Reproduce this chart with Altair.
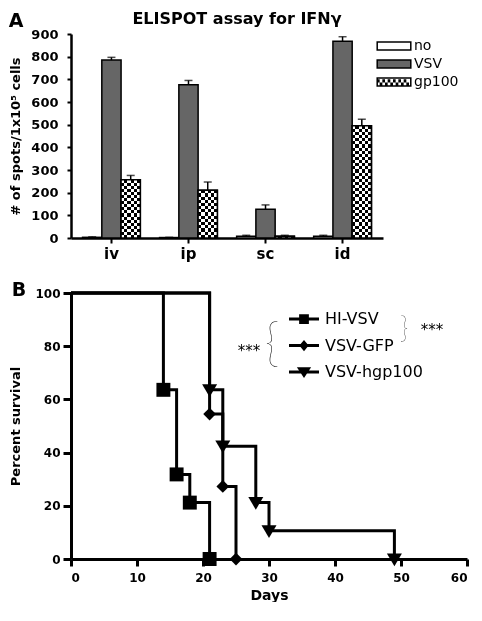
import altair as alt
import pandas as pd

# ---------------- data: panel A (ELISPOT) ----------------
routes = ["iv", "ip", "sc", "id"]
groups = ["no", "VSV", "gp100"]
no_mean = [3, 2, 8, 8]
no_err = [2, 1, 4, 4]
vsv_mean = [785, 676, 127, 868]
vsv_err = [12, 19, 19, 20]
gp_mean = [257, 211, 8, 495]
gp_err = [19, 36, 4, 29]
y_ticks_a = [0, 100, 200, 300, 400, 500, 600, 700, 800, 900]

# ---------------- data: panel B (survival) ----------------
series = ["HI-VSV", "VSV-GFP", "VSV-hgp100"]
hi_days = [0, 14, 16, 18, 21]
hi_surv = [100, 63.6, 31.8, 21.2, 0]
gfp_days = [0, 21, 23, 25]
gfp_surv = [100, 54.5, 27.3, 0]
hgp_days = [0, 21, 23, 28, 30, 49]
hgp_surv = [100, 63.6, 42.4, 21.2, 10.6, 0]
x_ticks_b = [0, 10, 20, 30, 40, 50, 60]
y_ticks_b = [0, 20, 40, 60, 80, 100]

panel_labels = ["A", "B"]
title_a = ["ELISPOT assay for IFNγ"]
ytitle_a = "# of spots/1x10⁵ cells"
ytitle_b = "Percent survival"
xtitle_b = "Days"
signif = ["***"]
braces = ["{", "}"]

# ---------------- tables ----------------
rows_a = []
for i, r in enumerate(routes):
    for g, m, e in zip(groups, [no_mean, vsv_mean, gp_mean], [no_err, vsv_err, gp_err]):
        rows_a.append({"route": r, "group": g, "mean": m[i], "hi": m[i] + e[i]})
df_a = pd.DataFrame(rows_a)

rows_b = []
for s, ds, vs in zip(series, [hi_days, gfp_days, hgp_days], [hi_surv, gfp_surv, hgp_surv]):
    for d, v in zip(ds, vs):
        rows_b.append({"series": s, "day": d, "surv": v})
df_b = pd.DataFrame(rows_b)

FONT = "DejaVu Sans"
WA, HA = 312, 204
WB, HB = 396, 266

# ---------------- panel A ----------------
ax_x_a = alt.Axis(title=None, labelAngle=0, labelFont=FONT, labelFontSize=15, labelFontWeight="bold",
                  labelColor="black", domainColor="black", domainWidth=2.5, tickColor="black",
                  tickWidth=2, tickSize=5, labelPadding=3, grid=False)
ax_y_a = alt.Axis(title=ytitle_a, values=y_ticks_a, labelFont=FONT, labelFontSize=13, labelFontWeight="bold",
                  labelColor="black", titleFont=FONT, titleFontSize=13, titleFontWeight="bold",
                  titleColor="black", titlePadding=8, domainColor="black", domainWidth=2.5,
                  tickColor="black", tickWidth=2, tickSize=4, labelPadding=9, grid=False)


def X_a():
    return alt.X("route:N", sort=routes,
                 scale=alt.Scale(domain=routes, paddingInner=0.25, paddingOuter=0.15), axis=ax_x_a)


def XO_a():
    return alt.XOffset("group:N", scale=alt.Scale(domain=groups, paddingInner=0, paddingOuter=0))


def Y_a(field):
    return alt.Y(field, scale=alt.Scale(domain=[0, 900], nice=False), axis=ax_y_a)


sq_rect = "M-2.1,-0.5H2.1V0.5H-2.1Z"
# black squares of the checker swatch (laid over the white gp100 swatch)
chk = ""
cw = 4.0 / 12
chh = 0.84 / 2
for rr in range(2):
    for cc in range(12):
        if (rr + cc) % 2 == 0:
            x0 = -2.0 + cc * cw
            y0 = -0.42 + rr * chh
            chk += f"M{x0:.3f},{y0:.3f}H{x0 + cw:.3f}V{y0 + chh:.3f}H{x0:.3f}Z "
chk = chk.strip()

LEG_A_X, LEG_A_Y, LEG_A_ROW = 314, 3, 18.8

fill_scale_a = alt.Scale(domain=groups, range=["white", "#666666", "white"])

bars = alt.Chart(df_a).mark_bar(stroke="black", strokeWidth=1.5).encode(
    x=X_a(), xOffset=XO_a(), y=Y_a("mean:Q"),
    fill=alt.Fill("group:N", scale=fill_scale_a,
                  legend=alt.Legend(title=None, orient="none", legendX=LEG_A_X, legendY=LEG_A_Y,
                                    labelFont=FONT, labelFontSize=14, labelColor="black",
                                    symbolType=sq_rect, symbolSize=256, labelOffset=11, rowPadding=2,
                                    symbolStrokeWidth=1.5, symbolOpacity=1)),
)

checker_legend = alt.Chart(df_a).transform_filter("datum.group === 'gp100'").mark_point(
    filled=True, color="black", opacity=0).encode(
    x=X_a(), xOffset=XO_a(), y=Y_a("mean:Q"),
    shape=alt.Shape("group:N", scale=alt.Scale(domain=["gp100"], range=[chk]),
                    legend=alt.Legend(title=None, orient="none", legendX=LEG_A_X,
                                      legendY=LEG_A_Y + 2 * LEG_A_ROW, labelExpr="''",
                                      symbolSize=256, symbolStrokeWidth=0, symbolOpacity=1,
                                      labelFontSize=14, labelFont=FONT)),
)


def hgrad(n):
    stops = []
    for k in range(n):
        c = "black" if k % 2 == 0 else "white"
        stops.append(alt.GradientStop(offset=k / n, color=c))
        stops.append(alt.GradientStop(offset=(k + 1) / n, color=c))
    return alt.LinearGradient(gradient="linear", stops=stops, x1=0, x2=0, y1=0, y2=1)


def vgrad(n):
    stops = []
    for k in range(n):
        c = "white" if k % 2 == 0 else "black"
        stops.append(alt.GradientStop(offset=k / n, color=c))
        stops.append(alt.GradientStop(offset=(k + 1) / n, color=c))
    return alt.LinearGradient(gradient="linear", stops=stops, x1=0, x2=1, y1=0, y2=0)


pattern_layers = []
for r, v in zip(routes, gp_mean):
    px = v / 900 * HA
    n = max(1, round(px / 3.1))
    pattern_layers.append(
        alt.Chart(df_a).transform_filter(f"datum.group === 'gp100' && datum.route === '{r}'")
        .mark_bar(fill=hgrad(n)).encode(x=X_a(), xOffset=XO_a(), y=Y_a("mean:Q"))
    )
pattern_layers.append(
    alt.Chart(df_a).transform_filter("datum.group === 'gp100'")
    .mark_bar(fill=vgrad(6), blend="difference").encode(x=X_a(), xOffset=XO_a(), y=Y_a("mean:Q"))
)
outline = alt.Chart(df_a).transform_filter("datum.group === 'gp100'").mark_bar(
    fillOpacity=0, stroke="black", strokeWidth=1.5).encode(x=X_a(), xOffset=XO_a(), y=Y_a("mean:Q"))

err_rule = alt.Chart(df_a).mark_rule(color="black", strokeWidth=1.5).encode(
    x=X_a(), xOffset=XO_a(), y=Y_a("mean:Q"), y2="hi:Q")
err_cap = alt.Chart(df_a).mark_tick(color="black", thickness=1.5, size=8).encode(
    x=X_a(), xOffset=XO_a(), y=Y_a("hi:Q"))

lab_a = alt.Chart(pd.DataFrame({"t": [panel_labels[0]]})).mark_text(
    font=FONT, fontSize=19, fontWeight="bold", color="black", align="center", baseline="alphabetic"
).encode(text="t:N", x=alt.value(-55), y=alt.value(-7))
ttl_a = alt.Chart(pd.DataFrame({"t": title_a})).mark_text(
    font=FONT, fontSize=16, fontWeight="bold", color="black", align="center", baseline="alphabetic"
).encode(text="t:N", x=alt.value(WA / 2 + 10), y=alt.value(-10))

chart_a = alt.layer(bars, *pattern_layers, outline, err_rule, err_cap, checker_legend, lab_a, ttl_a).properties(
    width=WA, height=HA)

# ---------------- panel B ----------------
ax_x_b = alt.Axis(title=xtitle_b, values=x_ticks_b, labelFont=FONT, labelFontSize=12, labelFontWeight="bold",
                  labelColor="black", titleFont=FONT, titleFontSize=14, titleFontWeight="bold",
                  titleColor="black", titlePadding=5, domainColor="black", domainWidth=3,
                  tickColor="black", tickWidth=3, tickSize=7, labelPadding=6, grid=False)
ax_y_b = alt.Axis(title=ytitle_b, values=y_ticks_b, labelFont=FONT, labelFontSize=12, labelFontWeight="bold",
                  labelColor="black", titleFont=FONT, titleFontSize=13, titleFontWeight="bold",
                  titleColor="black", titlePadding=12, domainColor="black", domainWidth=3,
                  tickColor="black", tickWidth=3, tickSize=8, labelPadding=3, grid=False)

X_b = alt.X("day:Q", scale=alt.Scale(domain=[0, 60], nice=False), axis=ax_x_b)
Y_b = alt.Y("surv:Q", scale=alt.Scale(domain=[0, 100], nice=False), axis=ax_y_b)

m_sq = "M-0.93,-0.93H0.93V0.93H-0.93Z"
m_di = "M0,-0.85L0.85,0L0,0.85L-0.85,0Z"
m_tr = "M-1,-0.75H1L0,0.95Z"
line_seg = "M-2,-0.2H2V0.2H-2Z"
l_sq = line_seg + " M-0.65,-0.65H0.65V0.65H-0.65Z"
l_di = line_seg + " M0,-0.75L0.62,0L0,0.75L-0.62,0Z"
l_tr = line_seg + " M-0.95,-0.65H0.95L0,0.8Z"

leg_b = alt.Legend(title=None, orient="none", legendX=225, legendY=18, labelFont=FONT, labelFontSize=16,
                   labelColor="black", symbolSize=225, labelOffset=13, rowPadding=10.5,
                   symbolStrokeWidth=0, symbolOpacity=1)

lines = alt.Chart(df_b).mark_line(interpolate="step-after", color="black", strokeWidth=3).encode(
    x=X_b, y=Y_b, detail="series:N")
points = alt.Chart(df_b).transform_filter("datum.day > 0").mark_point(
    filled=True, color="black", opacity=1, size=225).encode(
    x=X_b, y=Y_b,
    shape=alt.Shape("series:N", scale=alt.Scale(domain=series, range=[m_sq, m_di, m_tr]), legend=None),
)
legend_b_src = alt.Chart(df_b).mark_point(filled=True, color="black", opacity=0, size=225).encode(
    x=X_b, y=Y_b,
    shape=alt.Shape("series:N", scale=alt.Scale(domain=series, range=[l_sq, l_di, l_tr]), legend=leg_b),
)

lab_b = alt.Chart(pd.DataFrame({"t": [panel_labels[1]]})).mark_text(
    font=FONT, fontSize=19, fontWeight="bold", color="black", align="center", baseline="alphabetic"
).encode(text="t:N", x=alt.value(-52), y=alt.value(3))

stars_df = pd.DataFrame({"t": signif})
star_l = alt.Chart(stars_df).mark_text(font=FONT, fontSize=15, color="black", align="center",
                                       baseline="middle").encode(text="t:N", x=alt.value(178), y=alt.value(58))
star_r = alt.Chart(stars_df).mark_text(font=FONT, fontSize=15, color="black", align="center",
                                       baseline="middle").encode(text="t:N", x=alt.value(361), y=alt.value(37))
brace_l = alt.Chart(pd.DataFrame({"t": [braces[0]]})).mark_text(
    font="Lato", fontWeight=200, fontSize=52, color="black", align="center", baseline="middle"
).encode(text="t:N", x=alt.value(201), y=alt.value(51))
brace_r = alt.Chart(pd.DataFrame({"t": [braces[1]]})).mark_text(
    font="Lato", fontWeight=200, fontSize=30, color="black", align="center", baseline="middle"
).encode(text="t:N", x=alt.value(333), y=alt.value(36))

chart_b = alt.layer(lines, points, legend_b_src, lab_b, star_l, star_r, brace_l, brace_r).resolve_scale(
    shape="independent").properties(width=WB, height=HB)

chart = alt.vconcat(chart_a, chart_b, spacing=20).properties(
    padding={"left": 0, "top": 3, "right": 0, "bottom": 0}
).configure(background="white").configure_view(stroke=None)

chart.save("out.html", embed_options={"renderer": "svg", "actions": False})
